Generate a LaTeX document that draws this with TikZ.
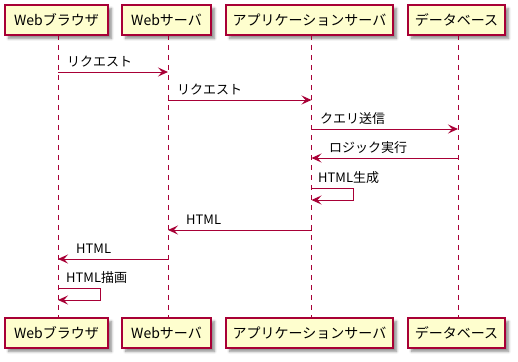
\documentclass[tikz,border=0pt]{standalone}
\usepackage{fontspec}
\setmainfont{Noto Sans CJK JP}
\usetikzlibrary{arrows.meta,shadows.blur}
\definecolor{umlred}{HTML}{A80036}
\definecolor{umlfill}{HTML}{FEFECE}
\tikzset{
  part/.style={draw=umlred,fill=umlfill,line width=1.2pt,minimum height=30pt,inner sep=0pt,
    font=\fontsize{14}{16}\selectfont,
    blur shadow={shadow xshift=3.5pt,shadow yshift=-3.5pt,shadow blur steps=6,shadow opacity=45,shadow blur radius=2.5pt}},
  life/.style={draw=umlred,line width=0.9pt,dash pattern=on 5pt off 5pt},
  msg/.style={draw=umlred,line width=1pt,-{Stealth[length=10pt,width=9pt,inset=4pt]}},
  lbl/.style={anchor=west,inner sep=0pt,font=\fontsize{13}{15}\selectfont},
}
\begin{document}
\begin{tikzpicture}[x=1pt,y=-1pt]
\useasboundingbox (0,0) rectangle (518,361);
% participants top
\node[part,minimum width=103pt] (pA) at (56.5,20) {Webブラウザ};
\node[part,minimum width=89pt] (pB) at (166.5,20) {Webサーバ};
\node[part,minimum width=167pt] (pC) at (309.5,20) {アプリケーションサーバ};
\node[part,minimum width=97pt] (pD) at (456.5,20) {データベース};
% participants bottom
\node[part,minimum width=103pt] (qA) at (56.5,333) {Webブラウザ};
\node[part,minimum width=89pt] (qB) at (166.5,333) {Webサーバ};
\node[part,minimum width=167pt] (qC) at (309.5,333) {アプリケーションサーバ};
\node[part,minimum width=97pt] (qD) at (456.5,333) {データベース};
% lifelines
\coordinate (tA) at (58,35); \coordinate (bA) at (58,318);
\coordinate (tB) at (168,35); \coordinate (bB) at (168,318);
\coordinate (tC) at (311.5,35); \coordinate (bC) at (311.5,318);
\coordinate (tD) at (458,35); \coordinate (bD) at (458,318);
\draw[life] (tA) -- (bA);
\draw[life] (tB) -- (bB);
\draw[life] (tC) -- (bC);
\draw[life] (tD) -- (bD);
% message points
\coordinate (a1) at (58,72); \coordinate (b1) at (168,72);
\coordinate (b2) at (168,100); \coordinate (c2) at (311.5,100);
\coordinate (c3) at (311.5,129); \coordinate (d3) at (458,129);
\coordinate (d4) at (458,158); \coordinate (c4) at (311.5,158);
\coordinate (c5) at (311.5,188); \coordinate (c5r) at (353,188); \coordinate (c5s) at (353,200); \coordinate (c5e) at (311.5,200);
\coordinate (c6) at (311.5,230); \coordinate (b6) at (168,230);
\coordinate (b7) at (168,259); \coordinate (a7) at (58,259);
\coordinate (a8) at (58,288); \coordinate (a8r) at (100,288); \coordinate (a8s) at (100,300); \coordinate (a8e) at (58,300);
% messages
\draw[msg] (a1) -- (b1);
\node[lbl] (m1) at (67,61.5) {リクエスト};
\draw[msg] (b2) -- (c2);
\node[lbl] (m2) at (177,89.5) {リクエスト};
\draw[msg] (c3) -- (d3);
\node[lbl] (m3) at (320,118.5) {クエリ送信};
\draw[msg] (d4) -- (c4);
\node[lbl] (m4) at (329,147.5) {ロジック実行};
\draw[msg] (c5) -- (c5r) -- (c5s) -- (c5e);
\node[lbl] (m5) at (318,177.5) {HTML生成};
\draw[msg] (c6) -- (b6);
\node[lbl] (m6) at (186,219.5) {HTML};
\draw[msg] (b7) -- (a7);
\node[lbl] (m7) at (76,248.5) {HTML};
\draw[msg] (a8) -- (a8r) -- (a8s) -- (a8e);
\node[lbl] (m8) at (66,277.5) {HTML描画};
\end{tikzpicture}
\end{document}
